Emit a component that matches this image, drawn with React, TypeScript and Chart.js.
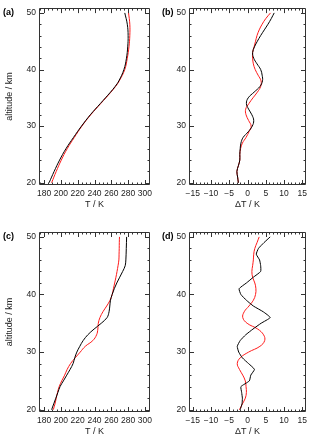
import React, { useEffect, useRef } from 'react';
import { Chart, registerables } from 'chart.js';

Chart.register(...registerables);

// ---------- data ----------
const altA = [20, 22, 24, 26, 28, 30, 32, 34, 36, 37, 38, 40, 42, 44, 46, 48, 50];
const tBlackA = [186, 192, 198.5, 206, 215, 224.5, 235, 247, 259, 264.5, 269, 275, 278, 279.5, 280, 279, 276];
const tRedA = [189, 194.5, 200.5, 207.5, 216, 225, 235.5, 247.5, 259.5, 265, 269.5, 276, 279, 281, 282, 282, 280.5];

const altB = [20, 21, 22, 23, 24, 25, 26, 27, 28, 29, 30, 31, 32, 33, 34, 35, 36, 37, 38, 39, 40, 41, 42, 43, 44, 45, 46, 47, 48, 49, 50];
const dtBlackB = [-2.5, -2.7, -2.9, -2.5, -2.1, -2.1, -2.0, -1.8, -1.2, 0.2, 1.3, 1.7, 1.2, 0.3, -0.3, 0.2, 1.8, 3.4, 4.1, 4.0, 3.6, 2.6, 1.7, 1.4, 1.9, 2.7, 3.6, 4.6, 5.6, 6.5, 7.3];
const dtRedB = [-2.5, -2.7, -2.9, -2.5, -2.1, -2.1, -1.9, -1.4, -0.4, 0.4, 1.0, 0.3, -0.4, -0.5, 0.4, 1.5, 2.7, 3.6, 3.7, 2.9, 2.1, 1.6, 1.4, 1.4, 1.8, 2.2, 2.6, 3.2, 4.0, 5.0, 6.3];

const altC = [20, 21, 22, 23, 24, 25, 26, 27, 28, 29, 30, 31, 32, 33, 34, 35, 36, 37, 38, 39, 40, 41, 42, 43, 44, 45, 46, 47, 48, 49, 50];
const tBlackC = [189, 191.5, 194, 196.5, 199, 203, 207, 211, 214.5, 216.5, 219, 222.5, 226.5, 232, 239.5, 248, 255, 257.3, 258.2, 259, 261, 263.5, 266.5, 270, 273.5, 276.5, 277.3, 277.6, 277.8, 278, 278.2];
const tRedC = [191, 193, 194.5, 196, 198, 201, 204.5, 207.5, 211.5, 217, 223, 229, 238, 242.5, 244, 244.5, 246.5, 250, 254.5, 258.5, 261, 262.5, 264, 265.5, 266.8, 268, 269, 269.2, 269.4, 269.5, 269.7];

const altD = [20, 21, 22, 23, 24, 25, 26, 27, 28, 29, 30, 31, 32, 33, 34, 35, 36, 37, 38, 39, 40, 41, 42, 43, 44, 45, 46, 47, 48, 49, 50];
const dtBlackD = [-2.0, -1.5, -1.4, -1.6, -1.8, 0.5, 0.9, 1.9, 0.3, -1.4, -2.4, -2.8, -2.0, -0.5, 1.5, 3.7, 6.2, 4.3, 1.6, -0.3, -1.8, -2.3, -0.3, 1.6, 3.6, 3.6, 3.3, 2.4, 3.0, 4.5, 6.2];
const dtRedD = [-2.2, -1.4, -0.6, -0.3, -0.4, -0.6, -1.3, -2.2, -2.8, -2.0, 0.3, 3.4, 4.7, 4.4, 2.8, -0.1, -1.3, -0.9, 0.4, 1.6, 2.2, 2.3, 2.0, 1.4, 1.2, 1.4, 1.6, 1.7, 2.0, 2.6, 3.2];

const tTicks = [180, 200, 220, 240, 260, 280, 300];
const dtTicks = [-15, -10, -5, 0, 5, 10, 15];
const altTicks = [20, 30, 40, 50];

const panelLabels = ['(a)', '(b)', '(c)', '(d)'];
const xTitles = ['T / K', 'ΔT / K', 'T / K', 'ΔT / K'];
const yTitle = 'altitude / km';

// ---------- layout / style ----------
const W = 320;
const H = 443;
const FONT = 'Liberation Sans, Arial, sans-serif';
const TXT = '#222';
const TICK_SIZE = 8.5;
const TITLE_SIZE = 9;

const pts = (xs: number[], ys: number[]) => ys.map((a, i) => ({ x: xs[i], y: a }));

const framePlugin = {
  id: 'frame',
  afterDatasetsDraw(chart: any, _args: any, opts: any) {
    const { ctx, chartArea } = chart;
    const { left, top, right, bottom } = chartArea;
    const xs = chart.scales.x;
    const ys = chart.scales.y;
    ctx.save();
    ctx.strokeStyle = '#333';
    ctx.lineWidth = 1;
    ctx.beginPath();
    ctx.rect(Math.round(left) + 0.5, Math.round(top) + 0.5, Math.round(right - left) - 1, Math.round(bottom - top) - 1);
    ctx.stroke();
    ctx.beginPath();
    const tickX = (v: number, len: number) => {
      const p = Math.round(xs.getPixelForValue(v)) + 0.5;
      if (p < left + 1 || p > right - 1) return;
      ctx.moveTo(p, bottom); ctx.lineTo(p, bottom - len);
      ctx.moveTo(p, top); ctx.lineTo(p, top + len);
    };
    const tickY = (v: number, len: number) => {
      const p = Math.round(ys.getPixelForValue(v)) + 0.5;
      if (p < top + 1 || p > bottom - 1) return;
      ctx.moveTo(left, p); ctx.lineTo(left + len, p);
      ctx.moveTo(right, p); ctx.lineTo(right - len, p);
    };
    const xMin = xs.min, xMax = xs.max;
    for (let v = Math.ceil(xMin / opts.xMinor) * opts.xMinor; v <= xMax; v += opts.xMinor) {
      const major = Math.abs(v / opts.xMajor - Math.round(v / opts.xMajor)) < 1e-6;
      tickX(v, major ? 5 : 2.5);
    }
    const yMin = ys.min, yMax = ys.max;
    for (let v = Math.ceil(yMin / opts.yMinor) * opts.yMinor; v <= yMax; v += opts.yMinor) {
      const major = Math.abs(v / opts.yMajor - Math.round(v / opts.yMajor)) < 1e-6;
      tickY(v, major ? 5 : 2.5);
    }
    ctx.stroke();
    // panel label
    ctx.fillStyle = '#000';
    ctx.font = `bold 9px ${FONT}`;
    ctx.textAlign = 'left';
    ctx.textBaseline = 'middle';
    ctx.fillText(opts.label, opts.labelX, ys.getPixelForValue(50));
    ctx.restore();
  },
};

type PanelDef = {
  label: string;
  labelX: number;
  l: number; t: number; r: number; b: number;
  yw: number; xh: number;
  xMin: number; xMax: number;
  xTicks: number[]; xMajor: number; xMinor: number;
  xTitle: string; showYTitle: boolean;
  black: { x: number; y: number }[];
  red: { x: number; y: number }[];
  tBlack: number; tRed: number;
};

const fmtTick = (v: number) => (v < 0 ? '\u2212' + Math.abs(v) : String(v));

function makeConfig(p: PanelDef): any {
  return {
    type: 'scatter',
    data: {
      datasets: [
        { data: p.black, borderColor: '#000000', borderWidth: 1, showLine: true, pointRadius: 0, tension: p.tBlack, fill: false },
        { data: p.red, borderColor: '#ff1a1a', borderWidth: 1, showLine: true, pointRadius: 0, tension: p.tRed, fill: false },
      ],
    },
    options: {
      animation: false,
      responsive: false,
      devicePixelRatio: 1,
      events: [],
      layout: { padding: { left: p.l - p.yw, top: p.t, right: W - p.r, bottom: H - p.b - p.xh } },
      plugins: {
        legend: { display: false },
        tooltip: { enabled: false },
        frame: { label: p.label, labelX: p.labelX, xMajor: p.xMajor, xMinor: p.xMinor, yMajor: 10, yMinor: 2 },
      },
      scales: {
        x: {
          type: 'linear',
          min: p.xMin,
          max: p.xMax,
          afterFit: (s: any) => { s.height = p.xh; },
          afterBuildTicks: (s: any) => { s.ticks = p.xTicks.map((v) => ({ value: v })); },
          grid: { display: false, drawTicks: false },
          border: { display: false },
          ticks: { font: { family: FONT, size: TICK_SIZE }, color: TXT, padding: 4, maxRotation: 0, autoSkip: false, callback: (v: number) => fmtTick(v) },
          title: { display: true, text: p.xTitle, font: { family: FONT, size: TITLE_SIZE }, color: TXT, padding: { top: 0, bottom: 0 } },
        },
        y: {
          type: 'linear',
          min: 19.6,
          max: 50.85,
          afterFit: (s: any) => { s.width = p.yw; },
          afterBuildTicks: (s: any) => { s.ticks = altTicks.map((v) => ({ value: v })); },
          grid: { display: false, drawTicks: false },
          border: { display: false },
          ticks: { font: { family: FONT, size: TICK_SIZE }, color: TXT, padding: 3, autoSkip: false },
          title: { display: p.showYTitle, text: yTitle, font: { family: FONT, size: TITLE_SIZE }, color: TXT, padding: { top: 4, bottom: 0 } },
        },
      },
    },
    plugins: [framePlugin],
  };
}

const panels: PanelDef[] = [
  {
    label: panelLabels[0], labelX: 3, l: 39, t: 5, r: 150, b: 185, yw: 39, xh: 25,
    xMin: 174, xMax: 306, xTicks: tTicks, xMajor: 20, xMinor: 5, xTitle: xTitles[0], showYTitle: true,
    black: pts(tBlackA, altA), red: pts(tRedA, altA), tBlack: 0.4, tRed: 0.4,
  },
  {
    label: panelLabels[1], labelX: 162, l: 189, t: 5, r: 306, b: 185, yw: 29, xh: 25,
    xMin: -16, xMax: 16, xTicks: dtTicks, xMajor: 5, xMinor: 1, xTitle: xTitles[1], showYTitle: false,
    black: pts(dtBlackB, altB), red: pts(dtRedB, altB), tBlack: 0.4, tRed: 0.4,
  },
  {
    label: panelLabels[2], labelX: 3, l: 39, t: 232, r: 150, b: 412, yw: 39, xh: 25,
    xMin: 174, xMax: 306, xTicks: tTicks, xMajor: 20, xMinor: 5, xTitle: xTitles[2], showYTitle: true,
    black: pts(tBlackC, altC), red: pts(tRedC, altC), tBlack: 0.35, tRed: 0.4,
  },
  {
    label: panelLabels[3], labelX: 162, l: 189, t: 232, r: 306, b: 412, yw: 29, xh: 25,
    xMin: -16, xMax: 16, xTicks: dtTicks, xMajor: 5, xMinor: 1, xTitle: xTitles[3], showYTitle: false,
    black: pts(dtBlackD, altD), red: pts(dtRedD, altD), tBlack: 0.15, tRed: 0.4,
  },
];

function PanelChart({ def }: { def: PanelDef }) {
  const ref = useRef<HTMLCanvasElement | null>(null);
  useEffect(() => {
    if (!ref.current) return;
    const chart = new Chart(ref.current, makeConfig(def));
    return () => chart.destroy();
  }, [def]);
  return (
    <canvas
      ref={ref}
      width={W}
      height={H}
      style={{ position: 'absolute', left: 0, top: 0, width: W, height: H }}
    />
  );
}

export default function App() {
  return (
    <div style={{ position: 'absolute', left: 0, top: 0, width: W, height: H, background: '#fff', overflow: 'hidden' }}>
      {panels.map((p, i) => (
        <PanelChart key={i} def={p} />
      ))}
    </div>
  );
}
